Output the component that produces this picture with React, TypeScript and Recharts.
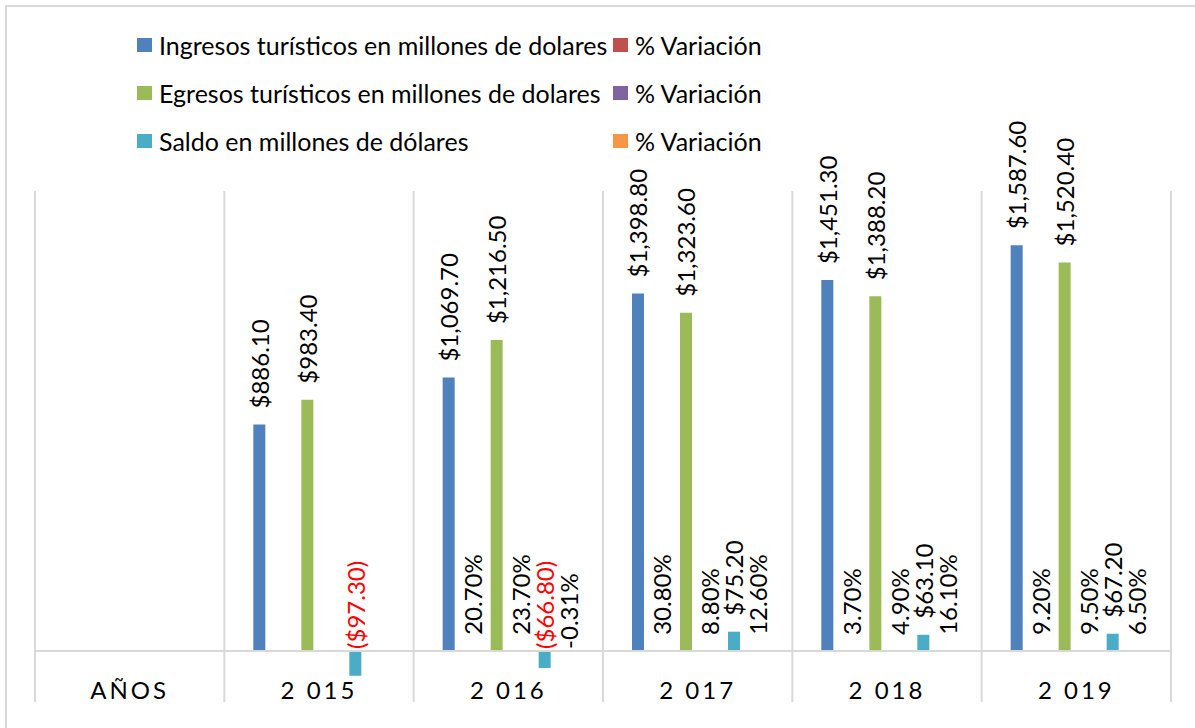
import React from "react";
import { BarChart, Bar, XAxis, YAxis, CartesianGrid, Legend, ReferenceLine } from "recharts";

// ============[ DATA ]============
const categories = ["AÑOS", "2 015", "2 016", "2 017", "2 018", "2 019"];
const ingresos = [null, 886.1, 1069.7, 1398.8, 1451.3, 1587.6];
const varIngresos = [null, null, 0.207, 0.308, 0.037, 0.092];
const egresos = [null, 983.4, 1216.5, 1323.6, 1388.2, 1520.4];
const varEgresos = [null, null, 0.237, 0.088, 0.049, 0.095];
const saldo = [null, -97.3, -66.8, 75.2, 63.1, 67.2];
const varSaldo = [null, null, -0.0031, 0.126, 0.161, 0.065];

const seriesOrder = ["ingresos", "varIngresos", "egresos", "varEgresos", "saldo", "varSaldo"];

const data = categories.map((name, i) => ({
  name,
  ingresos: ingresos[i],
  varIngresos: varIngresos[i],
  egresos: egresos[i],
  varEgresos: varEgresos[i],
  saldo: saldo[i],
  varSaldo: varSaldo[i],
}));

const FONT = "Lato, 'Open Sans', sans-serif";
const FONT_SIZE = 24;
const LEGEND_SIZE = 25;
const GRID = "#D9D9D9";

const fmtMoney = (v: number) => {
  const s = "$" + Math.abs(v).toLocaleString("en-US", { minimumFractionDigits: 2, maximumFractionDigits: 2 });
  return v < 0 ? `(${s})` : s;
};
const fmtPct = (v: number) => `${(v * 100).toFixed(2)}%`;

// ============[ VERTICAL LABELS ]============
const makeLabel = (kind: "money" | "pct") => (props: any) => {
  const { x, y, width, height, value } = props;
  if (value === null || value === undefined) return null;
  const cx = Number(x) + Number(width) / 2;
  const top = Math.min(Number(y), Number(y) + Number(height));
  const neg = value < 0;
  const startY = top - (neg ? 2 : 16);
  const color = kind === "money" && neg ? "#FF0000" : "#000000";
  return (
    <text
      x={cx}
      y={startY}
      transform={`rotate(-90 ${cx} ${startY})`}
      textAnchor="start"
      dominantBaseline="central"
      fill={color}
      fontSize={FONT_SIZE}
      fontFamily={FONT}
    >
      {kind === "money" ? fmtMoney(value) : fmtPct(value)}
    </text>
  );
};

// ============[ LEGEND ]============
const LegendGrid = ({ payload }: any) => {
  const items = [...(payload || [])].sort(
    (a: any, b: any) => seriesOrder.indexOf(a.dataKey) - seriesOrder.indexOf(b.dataKey)
  );
  return (
    <div style={{ display: "grid", gridTemplateColumns: "476px auto", fontFamily: FONT, fontSize: LEGEND_SIZE }}>
      {items.map((entry: any, i: number) => (
        <div key={i} style={{ display: "flex", alignItems: "center", height: 48, whiteSpace: "nowrap" }}>
          <span style={{ width: 15, height: 14, background: entry.color, display: "inline-block", marginRight: 7 }} />
          <span style={{ color: "#000" }}>{entry.value}</span>
        </div>
      ))}
    </div>
  );
};

// ============[ CATEGORY TICK ]============
const CategoryTick = ({ x, y, payload }: any) => (
  <text
    x={x}
    y={y - 11}
    textAnchor="middle"
    fontFamily={FONT}
    fontSize={FONT_SIZE}
    letterSpacing={3}
    fill="#000"
  >
    {payload.value}
  </text>
);

export default function App() {
  return (
    <div style={{ position: "absolute", left: 0, top: 0, width: 1195, height: 728, background: "#fff", overflow: "hidden" }}>
      <div
        style={{
          position: "absolute",
          left: 5,
          top: 5,
          width: 1300,
          height: 800,
          borderTop: `2px solid ${GRID}`,
          borderLeft: `2px solid ${GRID}`,
        }}
      />
      <div style={{ position: "absolute", left: 0, top: 0 }}>
        <BarChart
          width={1195}
          height={728}
          data={data}
          barGap={12}
          barSize={12}
          margin={{ top: 191, right: 24, left: 35, bottom: 25 }}
        >
          <CartesianGrid
            horizontal={false}
            stroke={GRID}
            strokeWidth={2}
            verticalCoordinatesGenerator={({ offset }: any) =>
              Array.from({ length: categories.length + 1 }, (_, i) => offset.left + (i * offset.width) / categories.length)
            }
          />
          <XAxis dataKey="name" axisLine={false} tickLine={false} height={1} tick={<CategoryTick />} interval={0} />
          <YAxis hide domain={[-200, 1800]} ticks={[-200, 0, 1800]} />
          <ReferenceLine y={0} stroke={GRID} strokeWidth={2} />
          <Legend
            layout="horizontal"
            verticalAlign="middle"
            align="center"
            wrapperStyle={{ top: 21, left: 137, width: 700 }}
            content={<LegendGrid />}
          />
          <Bar dataKey="ingresos" name="Ingresos turísticos en millones de dolares" fill="#4F81BD" isAnimationActive={false} label={makeLabel("money")} />
          <Bar dataKey="varIngresos" name="% Variación" fill="#C0504D" isAnimationActive={false} label={makeLabel("pct")} />
          <Bar dataKey="egresos" name="Egresos turísticos en millones de dolares" fill="#9BBB59" isAnimationActive={false} label={makeLabel("money")} />
          <Bar dataKey="varEgresos" name="% Variación" fill="#8064A2" isAnimationActive={false} label={makeLabel("pct")} />
          <Bar dataKey="saldo" name="Saldo en millones de dólares" fill="#4BACC6" isAnimationActive={false} label={makeLabel("money")} />
          <Bar dataKey="varSaldo" name="% Variación" fill="#F79646" isAnimationActive={false} label={makeLabel("pct")} />
        </BarChart>
      </div>
    </div>
  );
}
